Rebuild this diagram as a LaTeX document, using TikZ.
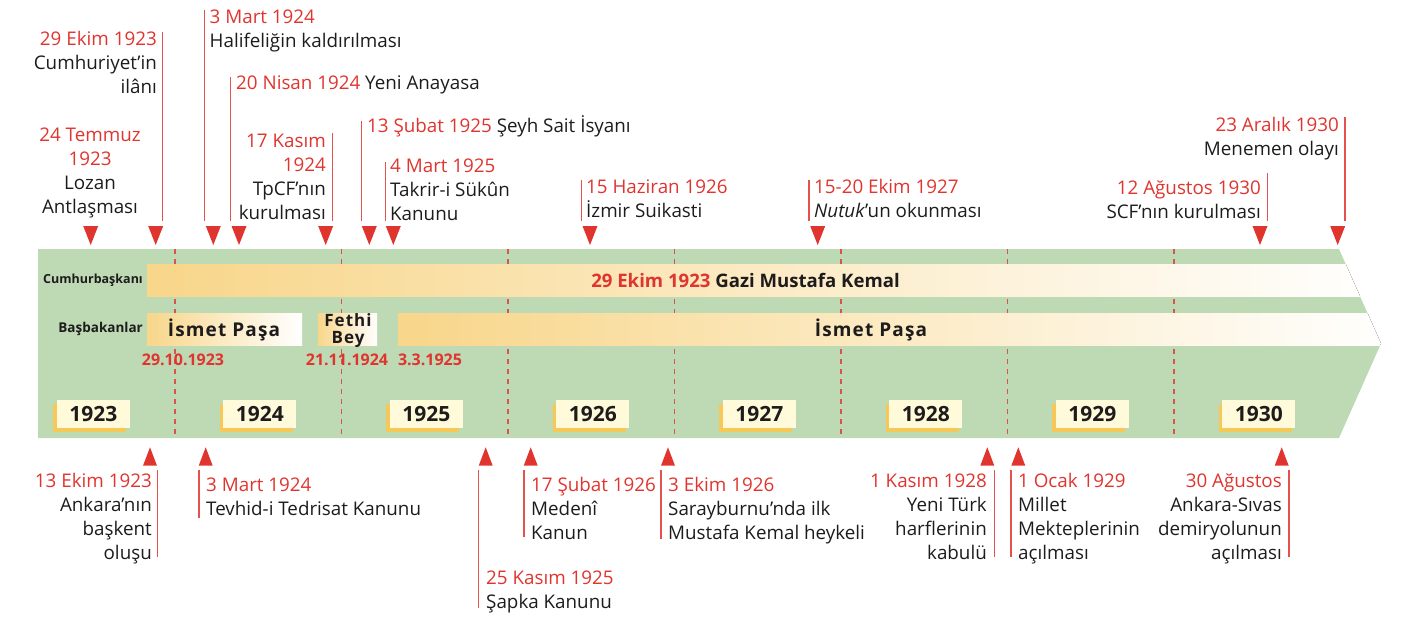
\documentclass[tikz,border=0pt]{standalone}
\usepackage{fontspec}
\setmainfont{Open Sans}
\newfontfamily\spc[LetterSpace=6]{Open Sans}
\usetikzlibrary{shadows}
\definecolor{tred}{RGB}{224,52,46}
\definecolor{bandg}{RGB}{190,218,180}
\definecolor{barO}{RGB}{248,214,138}
\definecolor{yrbox}{RGB}{255,250,218}
\definecolor{yrsh}{RGB}{246,200,90}
\definecolor{ink}{RGB}{30,27,28}
\definecolor{dashr}{RGB}{215,85,75}
\newcommand\fl{\rule{0pt}{16.8pt}}
\begin{document}
\begin{tikzpicture}[x=1pt,y=-1pt,
  ev/.style={inner sep=0pt, font=\fontsize{18.8}{24}\selectfont, text=ink},
  evl/.style={ev, anchor=north west, align=left},
  evr/.style={ev, anchor=north east, align=right},
  evc/.style={ev, anchor=north, align=center},
  vl/.style={draw=tred!85, line width=1.2pt},
  gl/.style={draw=dashr, dash pattern=on 5pt off 5pt, line width=1.3pt},
  yr/.style={fill=yrbox, minimum width=73pt, minimum height=28pt, inner sep=0pt,
     font=\bfseries\fontsize{21}{22}\selectfont, text=ink,
     general shadow={fill=yrsh, shadow xshift=-3.5pt, shadow yshift=-3.5pt}},
  side/.style={font=\bfseries\fontsize{12.5}{14}\selectfont, anchor=east, inner sep=0pt, text=ink},
  pm/.style={font=\spc\bfseries\fontsize{19}{17}\selectfont, inner sep=0pt, text=ink, align=center},
  dt/.style={font=\bfseries\fontsize{16}{17}\selectfont, text=tred, inner sep=0pt}
]
\useasboundingbox (0,0) rectangle (1416,626);
% band
\fill[bandg] (38,249) -- (1339,249) -- (1381,343.5) -- (1339,438) -- (38,438) -- cycle;
\foreach \x in {175,341.5,508,674.5,841,1007.5,1174} \draw[gl] (\x,249) -- (\x,438);
\begin{scope}
\clip (38,249) -- (1339,249) -- (1381,343.5) -- (1339,438) -- (38,438) -- cycle;
\fill[left color=barO, right color=white] (147,264) rectangle (1385,296);
\fill[left color=barO, right color=white] (147,313) rectangle (302,345);
\fill[left color=barO, right color=white] (318,313) rectangle (377,345);
\fill[left color=barO, right color=white] (398,313) rectangle (1395,345);
\end{scope}
\node[side] (lcb) at (143,280) {Cumhurbaşkanı};
\node[side, font=\bfseries\fontsize{13.5}{14}\selectfont] (lbb) at (143,329) {Başbakanlar};
\node[font=\bfseries\fontsize{18.6}{20}\selectfont, text=ink, inner sep=0pt] (pres) at (745.5,280) {\textcolor{tred}{29 Ekim 1923} Gazi Mustafa Kemal};
\node[pm] (pm1) at (224,330) {İsmet Paşa};
\node[pm, font=\spc\bfseries\fontsize{17}{17}\selectfont] (pm2) at (348,330.5) {Fethi\\Bey};
\node[pm] (pm3) at (871,330) {İsmet Paşa};
\node[dt] (d1) at (183,360) {29.10.1923};
\node[dt] (d2) at (347,360) {21.11.1924};
\node[dt] (d3) at (430,360) {3.3.1925};
\foreach \y [count=\i from 0] in {1923,1924,1925,1926,1927,1928,1929,1930}
  \node[yr] (y\y) at (93.3+166.5*\i,414) {\y};
% top markers
\foreach \x [count=\i] in {90.7,155.7,213.3,239,325.7,369.3,393.3,590,817.7,1260,1337.7}
  \fill[tred] (\x-7.5,226) -- (\x+7.5,226) -- (\x,245) -- cycle;
\foreach \x/\a in {162.7/32,204.3/10,230.7/77,332.3/133,361.7/120.7,385.7/161.7,581.3/180,809/180,1267.3/173,1345/117}
  \draw[vl] (\x,\a) -- (\x,221);
\node[evc] (t1) at (90,124.2) {\fl\textcolor{tred}{24 Temmuz}\\\textcolor{tred}{1923}\\Lozan\\Antlaşması};
\node[evr] (t2) at (157,28.2) {\fl\textcolor{tred}{29 Ekim 1923}\\Cumhuriyet’in\\ilânı};
\node[evl] (t3) at (209.5,6.2) {\fl\textcolor{tred}{3 Mart 1924}\\Halifeliğin kaldırılması};
\node[evl] (t4) at (236,72.2) {\fl\textcolor{tred}{20 Nisan 1924} Yeni Anayasa};
\node[evr] (t5) at (326,130.2) {\fl\textcolor{tred}{17 Kasım}\\\textcolor{tred}{1924}\\TpCF’nın\\kurulması};
\node[evl] (t6) at (367,115.2) {\fl\textcolor{tred}{13 Şubat 1925} Şeyh Sait İsyanı};
\node[evl] (t7) at (390,155.2) {\fl\textcolor{tred}{4 Mart 1925}\\Takrir-i Sükûn\\Kanunu};
\node[evl] (t8) at (586,176.2) {\fl\textcolor{tred}{15 Haziran 1926}\\İzmir Suikasti};
\node[evl] (t9) at (814,176.2) {\fl\textcolor{tred}{15-20 Ekim 1927}\\\textit{Nutuk}’un okunması};
\node[evr] (t10) at (1261,177.2) {\fl\textcolor{tred}{12 Ağustos 1930}\\SCF’nın kurulması};
\node[evr] (t11) at (1339,114.2) {\fl\textcolor{tred}{23 Aralık 1930}\\Menemen olayı};
% bottom markers
\foreach \x in {150,205.7,485.7,530.7,668,987.3,1018.3,1281.7}
  \fill[tred] (\x-7,465.7) -- (\x+7,465.7) -- (\x,447.3) -- cycle;
\foreach \x/\b in {157.3/557,199/518,478.3/608,524/537,661/539,994.3/557,1011/557,1289/557}
  \draw[vl] (\x,470) -- (\x,\b);
\node[evr] (b1) at (152,470.2) {\fl\textcolor{tred}{13 Ekim 1923}\\Ankara’nın\\başkent\\oluşu};
\node[evl] (b2) at (206,474.2) {\fl\textcolor{tred}{3 Mart 1924}\\Tevhid-i Tedrisat Kanunu};
\node[evl] (b3) at (486,567.2) {\fl\textcolor{tred}{25 Kasım 1925}\\Şapka Kanunu};
\node[evl] (b4) at (531,474.2) {\fl\textcolor{tred}{17 Şubat 1926}\\Medenî\\Kanun};
\node[evl] (b5) at (668,474.2) {\fl\textcolor{tred}{3 Ekim 1926}\\Sarayburnu’nda ilk\\Mustafa Kemal heykeli};
\node[evr] (b6) at (987,470.2) {\fl\textcolor{tred}{1 Kasım 1928}\\Yeni Türk\\harflerinin\\kabulü};
\node[evl] (b7) at (1018,470.2) {\fl\textcolor{tred}{1 Ocak 1929}\\Millet\\Mekteplerinin\\açılması};
\node[evr] (b8) at (1282,470.2) {\fl\textcolor{tred}{30 Ağustos}\\Ankara-Sıvas\\demiryolunun\\açılması};
\end{tikzpicture}
\end{document}
